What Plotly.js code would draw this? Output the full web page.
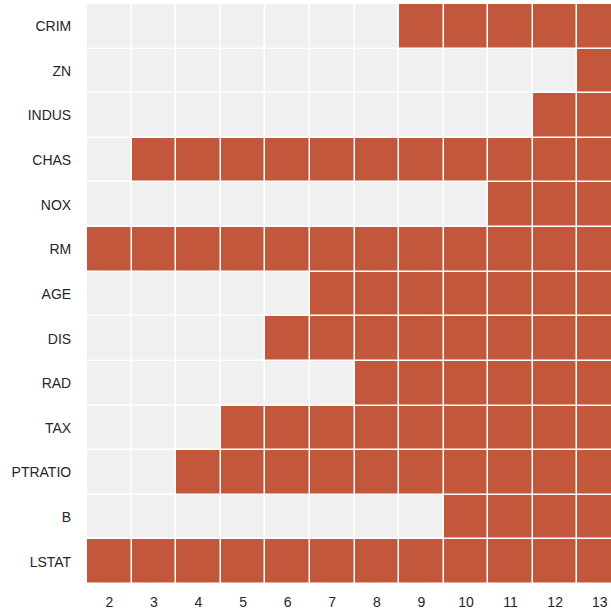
<!DOCTYPE html>
<html>
<head>
<meta charset="utf-8">
<script src="https://cdn.plot.ly/plotly-3.0.1.min.js"></script>
<style>html,body{margin:0;padding:0;background:#fff;overflow:hidden}</style>
</head>
<body>
<div id="chart" style="width:611px;height:613px"></div>
<script>
// Number of features kept (columns)
const nFeatures = [2, 3, 4, 5, 6, 7, 8, 9, 10, 11, 12, 13];
// Feature names (rows, top to bottom)
const features = ["CRIM", "ZN", "INDUS", "CHAS", "NOX", "RM", "AGE", "DIS", "RAD", "TAX", "PTRATIO", "B", "LSTAT"];
// Selection flags (1 = selected) per feature, for columns 2..13
const CRIM    = [0,0,0,0,0,0,0,1,1,1,1,1];
const ZN      = [0,0,0,0,0,0,0,0,0,0,0,1];
const INDUS   = [0,0,0,0,0,0,0,0,0,0,1,1];
const CHAS    = [0,1,1,1,1,1,1,1,1,1,1,1];
const NOX     = [0,0,0,0,0,0,0,0,0,1,1,1];
const RM      = [1,1,1,1,1,1,1,1,1,1,1,1];
const AGE     = [0,0,0,0,0,1,1,1,1,1,1,1];
const DIS     = [0,0,0,0,1,1,1,1,1,1,1,1];
const RAD     = [0,0,0,0,0,0,1,1,1,1,1,1];
const TAX     = [0,0,0,1,1,1,1,1,1,1,1,1];
const PTRATIO = [0,0,1,1,1,1,1,1,1,1,1,1];
const B       = [0,0,0,0,0,0,0,0,1,1,1,1];
const LSTAT   = [1,1,1,1,1,1,1,1,1,1,1,1];

const z = [CRIM, ZN, INDUS, CHAS, NOX, RM, AGE, DIS, RAD, TAX, PTRATIO, B, LSTAT];

const trace = {
  type: 'heatmap',
  x: nFeatures,
  y: features,
  z: z,
  zmin: 0, zmax: 1,
  colorscale: [[0, '#f0f0f0'], [1, '#c2573c']],
  showscale: false,
  xgap: 1.5, ygap: 1.5,
  hoverinfo: 'x+y+z'
};

const font = {family: 'Liberation Sans, Arial, sans-serif', size: 14, color: '#262626'};

const layout = {
  width: 611, height: 613,
  margin: {l: 87, r: 0, t: 4, b: 29},
  paper_bgcolor: '#ffffff',
  plot_bgcolor: '#ffffff',
  font: font,
  xaxis: {
    range: [1.5, 13.253],
    tickvals: nFeatures,
    ticktext: nFeatures.map(String),
    showgrid: false, zeroline: false, showline: false,
    ticks: 'outside', ticklen: 5, tickcolor: 'rgba(0,0,0,0)',
    tickfont: font
  },
  yaxis: {
    type: 'category',
    autorange: 'reversed',
    showgrid: false, zeroline: false, showline: false,
    ticks: 'outside', ticklen: 12, tickcolor: 'rgba(0,0,0,0)',
    tickfont: font
  }
};

Plotly.newPlot('chart', [trace], layout, {displayModeBar: false, staticPlot: true});
</script>
</body>
</html>
